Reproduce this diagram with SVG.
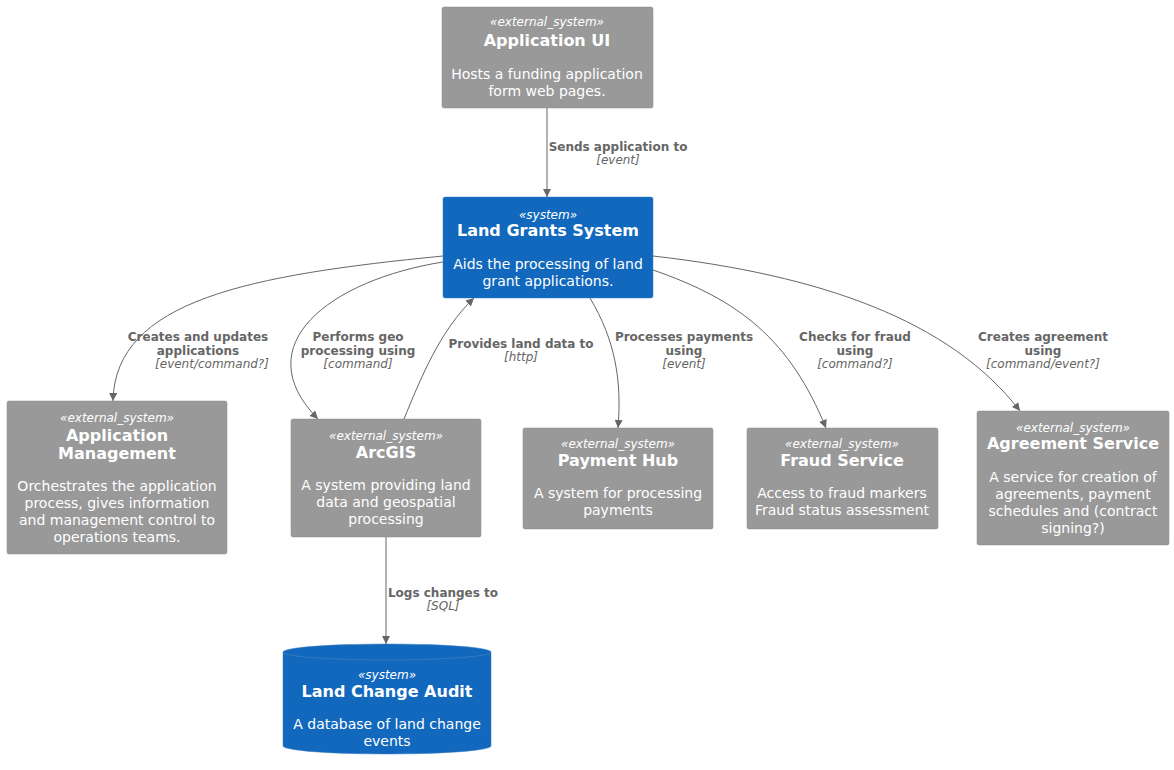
<svg xmlns="http://www.w3.org/2000/svg" width="1174" height="770" viewBox="0 0 1174 770">
<style>
text{font-family:"DejaVu Sans","Liberation Sans",sans-serif;text-anchor:middle}
.ext{fill:#999999;stroke:#8a8a8a;stroke-width:0.5}
.sys{fill:#1168BD;stroke:#3C7FC0;stroke-width:0.5}
.st{font-size:12px;font-style:italic;fill:#ffffff}
.ti{font-size:16px;font-weight:bold;fill:#ffffff}
.de{font-size:14px;fill:#ffffff}
.edge{fill:none;stroke:#666666;stroke-width:1}
.lb{font-size:12px;font-weight:bold;fill:#666666}
.li{font-size:12px;font-style:italic;fill:#666666}
</style>
<defs>
<marker id="arr" viewBox="0 0 10 10" refX="10" refY="5" markerWidth="10" markerHeight="8" markerUnits="userSpaceOnUse" orient="auto">
<path d="M0,0 L10,5 L0,10 Z" fill="#666666"/>
</marker>
</defs>
<g id="connectors">
<path class="edge" marker-end="url(#arr)" d="M547,108 V197"/>
<path class="edge" marker-end="url(#arr)" d="M443,256 C250,275 115,300 113,401"/>
<path class="edge" marker-end="url(#arr)" d="M443,262 C330,280 245,345 318,419"/>
<path class="edge" marker-end="url(#arr)" d="M404,419 C420,380 440,330 474,298"/>
<path class="edge" marker-end="url(#arr)" d="M590,298 C615,340 622,380 618,428"/>
<path class="edge" marker-end="url(#arr)" d="M653,270 C740,300 790,340 826,428"/>
<path class="edge" marker-end="url(#arr)" d="M653,256 C820,275 950,320 1020,411"/>
<path class="edge" marker-end="url(#arr)" d="M386,537 V644"/>
<text class="lb" x="618" y="151">Sends application to</text>
<text class="li" x="618" y="164">[event]</text>
<text class="lb" x="198" y="341">Creates and updates</text>
<text class="lb" x="198" y="355">applications</text>
<text class="li" x="212" y="368">[event/command?]</text>
<text class="lb" x="358" y="341">Performs geo</text>
<text class="lb" x="358" y="355">processing using</text>
<text class="li" x="358" y="368">[command]</text>
<text class="lb" x="521" y="348">Provides land data to</text>
<text class="li" x="521" y="361">[http]</text>
<text class="lb" x="684" y="341">Processes payments</text>
<text class="lb" x="684" y="355">using</text>
<text class="li" x="684" y="368">[event]</text>
<text class="lb" x="855" y="341">Checks for fraud</text>
<text class="lb" x="855" y="355">using</text>
<text class="li" x="855" y="368">[command?]</text>
<text class="lb" x="1043" y="341">Creates agreement</text>
<text class="lb" x="1043" y="355">using</text>
<text class="li" x="1043" y="368">[command/event?]</text>
<text class="lb" x="443" y="597">Logs changes to</text>
<text class="li" x="443" y="610">[SQL]</text>
</g>
<g id="application-ui">
<rect class="ext" x="442" y="7" width="211" height="101" rx="2"/>
<text class="st" x="547" y="26">«external_system»</text>
<text class="ti" x="547" y="46">Application UI</text>
<text class="de" x="547" y="79">Hosts a funding application</text>
<text class="de" x="547" y="96">form web pages.</text>
</g>
<g id="land-grants-system">
<rect class="sys" x="443" y="197" width="210" height="101" rx="2"/>
<text class="st" x="548" y="219">«system»</text>
<text class="ti" x="548" y="236">Land Grants System</text>
<text class="de" x="548" y="269">Aids the processing of land</text>
<text class="de" x="548" y="286">grant applications.</text>
</g>
<g id="application-management">
<rect class="ext" x="7" y="401" width="220" height="153" rx="2"/>
<text class="st" x="117" y="422">«external_system»</text>
<text class="ti" x="117" y="441">Application</text>
<text class="ti" x="117" y="459">Management</text>
<text class="de" x="117" y="491">Orchestrates the application</text>
<text class="de" x="117" y="508">process, gives information</text>
<text class="de" x="117" y="525">and management control to</text>
<text class="de" x="117" y="542">operations teams.</text>
</g>
<g id="arcgis">
<rect class="ext" x="291" y="419" width="190" height="118" rx="2"/>
<text class="st" x="386" y="440">«external_system»</text>
<text class="ti" x="386" y="458">ArcGIS</text>
<text class="de" x="386" y="490">A system providing land</text>
<text class="de" x="386" y="507">data and geospatial</text>
<text class="de" x="386" y="524">processing</text>
</g>
<g id="payment-hub">
<rect class="ext" x="523" y="428" width="190" height="101" rx="2"/>
<text class="st" x="618" y="448">«external_system»</text>
<text class="ti" x="618" y="466">Payment Hub</text>
<text class="de" x="618" y="498">A system for processing</text>
<text class="de" x="618" y="515">payments</text>
</g>
<g id="fraud-service">
<rect class="ext" x="747" y="428" width="191" height="101" rx="2"/>
<text class="st" x="842" y="448">«external_system»</text>
<text class="ti" x="842" y="466">Fraud Service</text>
<text class="de" x="842" y="498">Access to fraud markers</text>
<text class="de" x="842" y="515">Fraud status assessment</text>
</g>
<g id="agreement-service">
<rect class="ext" x="977" y="411" width="192" height="134" rx="2"/>
<text class="st" x="1073" y="432">«external_system»</text>
<text class="ti" x="1073" y="449">Agreement Service</text>
<text class="de" x="1073" y="482">A service for creation of</text>
<text class="de" x="1073" y="499">agreements, payment</text>
<text class="de" x="1073" y="516">schedules and (contract</text>
<text class="de" x="1073" y="533">signing?)</text>
</g>
<g id="land-change-audit">
<path class="sys" d="M283,652 A104,8 0 0 1 491,652 V746 A104,8 0 0 1 283,746 Z"/>
<path d="M283,652 A104,8 0 0 0 491,652" fill="none" stroke="#3C7FC0" stroke-width="0.8"/>
<text class="st" x="387" y="679">«system»</text>
<text class="ti" x="387" y="697">Land Change Audit</text>
<text class="de" x="387" y="729">A database of land change</text>
<text class="de" x="387" y="746">events</text>
</g>
</svg>
